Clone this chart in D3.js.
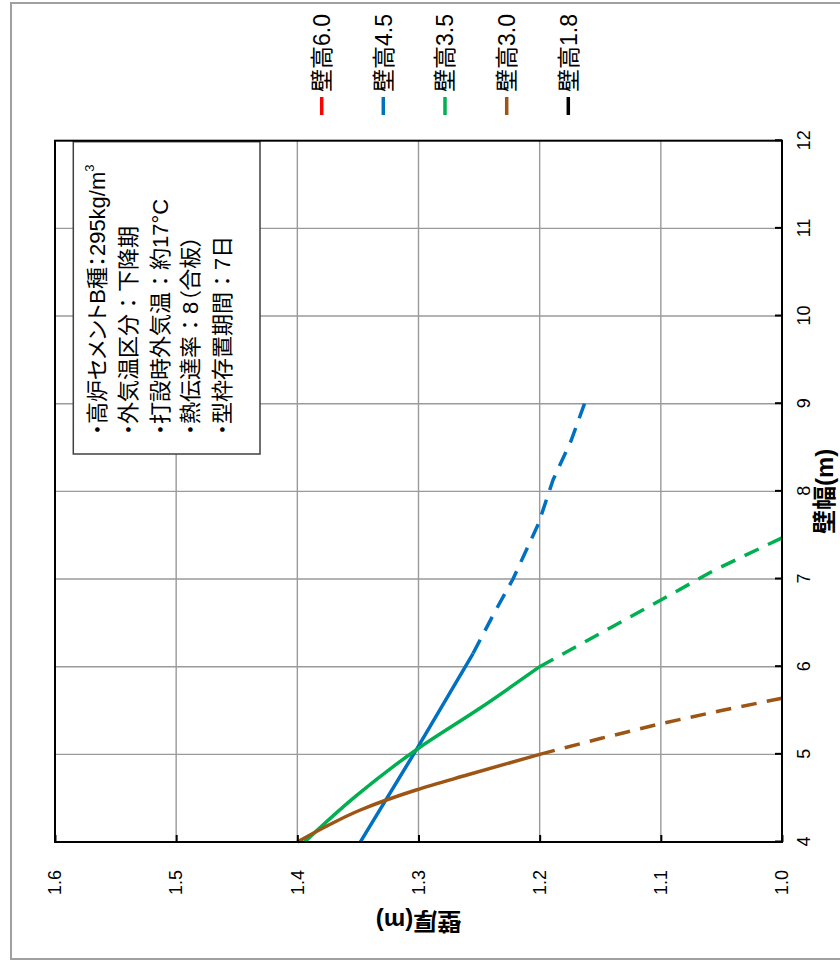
<!DOCTYPE html>
<html><head><meta charset="utf-8">
<script src="https://cdn.jsdelivr.net/npm/d3@7"></script>
<style>
html,body{margin:0;padding:0;background:#fff;}
svg{display:block;}
text{font-family:"Liberation Sans","Noto Sans CJK JP",sans-serif;fill:#000;}
.jp{font-feature-settings:"palt";}
.fw{font-feature-settings:normal;}
</style></head><body>
<svg id="chart" width="840" height="960"></svg>
<script>
// ---- data ----
const legendNames = ["壁高6.0", "壁高4.5", "壁高3.5", "壁高3.0", "壁高1.8"];
const legendColors = ["#FF0000", "#0070C0", "#00B050", "#9C5514", "#000000"];
const widthTicks = [4, 5, 6, 7, 8, 9, 10, 11, 12];
const thicknessTicks = [1.0, 1.1, 1.2, 1.3, 1.4, 1.5, 1.6];
const xTitle = "壁幅(m)";
const yTitle = "壁厚(m)";
const infoLines = ["・高炉セメントB種：295kg/m", "・外気温区分：下降期", "・打設時外気温：約17°C", "・熱伝達率：8（合板）", "・型枠存置期間：7日"];

// 壁高4.5 (blue)
const h45SolidW = [4.0, 5.07, 6.15];
const h45SolidT = [1.348, 1.301, 1.255];
const h45DashW = [6.15, 6.6, 7.0, 7.63, 8.13, 8.58, 9.0];
const h45DashT = [1.255, 1.238, 1.222, 1.201, 1.189, 1.174, 1.163];
// 壁高3.5 (green)
const h35SolidW = [4.0, 4.52, 5.07, 5.52, 6.0];
const h35SolidT = [1.394, 1.352, 1.300, 1.250, 1.200];
const h35DashW = [6.0, 6.38, 6.76, 7.1, 7.47];
const h35DashT = [1.200, 1.150, 1.100, 1.056, 1.000];
// 壁高3.0 (brown)
const h30SolidW = [4.0, 4.18, 4.365, 4.593, 4.764, 5.0];
const h30SolidT = [1.400, 1.376, 1.348, 1.302, 1.260, 1.200];
const h30DashW = [5.0, 5.18, 5.35, 5.50, 5.64];
const h30DashT = [1.200, 1.150, 1.100, 1.050, 1.000];

// ---- drawing (chart drawn in its own frame, then rotated -90deg) ----
const W = 960, H = 840;
const svg = d3.select("#chart");
const g = svg.append("g").attr("transform", `translate(0,${W}) rotate(-90)`);

// outer frame
g.append("rect").attr("x", 1).attr("y", 11).attr("width", 956).attr("height", 860)
  .attr("fill", "#fff").attr("stroke", "#a0a0a0").attr("stroke-width", 2);

const x = d3.scaleLinear().domain([4, 12]).range([118, 819.3]);
const y = d3.scaleLinear().domain([1.0, 1.6]).range([782, 55]);

// gridlines
const grid = g.append("g");
grid.selectAll("line.vx").data(widthTicks.slice(1, -1)).join("line")
  .attr("x1", d => x(d)).attr("x2", d => x(d)).attr("y1", y(1.0)).attr("y2", y(1.6))
  .attr("stroke", "#9a9a9a").attr("stroke-width", 1.4);
grid.selectAll("line.hy").data(thicknessTicks.slice(1, -1)).join("line")
  .attr("x1", x(4)).attr("x2", x(12)).attr("y1", d => y(d)).attr("y2", d => y(d))
  .attr("stroke", "#9a9a9a").attr("stroke-width", 1.4);

// info box
const box = g.append("g");
box.append("rect").attr("x", 506).attr("y", 73.3).attr("width", 312.3).attr("height", 186.7)
  .attr("fill", "#fff").attr("stroke", "#404040").attr("stroke-width", 1.5);
const infoY = [96.7, 128.3, 160, 190, 221.7];
infoLines.forEach((t, i) => {
  const parts = t.split("：");
  const tx = box.append("text").attr("class", "jp").attr("x", 525).attr("y", infoY[i])
    .attr("dy", "0.36em").attr("font-size", 22);
  tx.append("tspan").text(parts[0]);
  tx.append("tspan").attr("class", i === 0 ? "jp" : "fw").text("：");
  tx.append("tspan").text(parts[1]);
  if (i === 0) tx.append("tspan").attr("font-size", 13).attr("dy", "-0.85em").text("3");
});

// series lines
const lineSmooth = d3.line().x(d => x(d[0])).y(d => y(d[1])).curve(d3.curveMonotoneX);
const lineStraight = d3.line().x(d => x(d[0])).y(d => y(d[1]));
const series = [
  {c: legendColors[1], w: h45SolidW, t: h45SolidT, dash: false},
  {c: legendColors[1], w: h45DashW, t: h45DashT, dash: true},
  {c: legendColors[2], w: h35SolidW, t: h35SolidT, dash: false},
  {c: legendColors[2], w: h35DashW, t: h35DashT, dash: true},
  {c: legendColors[3], w: h30SolidW, t: h30SolidT, dash: false},
  {c: legendColors[3], w: h30DashW, t: h30DashT, dash: true}
];
const lines = g.append("g");
series.forEach(s => {
  const p = lines.append("path").datum(s.w.map((w, i) => [w, s.t[i]]))
    .attr("d", s.dash ? lineStraight : lineSmooth).attr("fill", "none").attr("stroke", s.c)
    .attr("stroke-width", 3.5).attr("stroke-linejoin", "round");
  if (s.dash) {
    const L = p.node().getTotalLength();
    const n = Math.max(1, Math.round((L - 15) / 25));
    const k = L / (n * 25 + 15);
    p.attr("stroke-dasharray", `${15 * k},${10 * k}`);
  }
});

// plot border
g.append("rect").attr("x", x(4)).attr("y", y(1.6)).attr("width", x(12) - x(4)).attr("height", y(1.0) - y(1.6))
  .attr("fill", "none").attr("stroke", "#000").attr("stroke-width", 2);

// axes
const xAxis = g.append("g").attr("transform", `translate(0,${y(1.0)})`)
  .call(d3.axisBottom(x).tickValues(widthTicks).tickFormat(d3.format("d")).tickSizeInner(-7).tickSizeOuter(0).tickPadding(15));
const yAxis = g.append("g").attr("transform", `translate(${x(4)},0)`)
  .call(d3.axisLeft(y).tickValues(thicknessTicks).tickFormat(d3.format(".1f")).tickSizeInner(-7).tickSizeOuter(0).tickPadding(28));
[xAxis, yAxis].forEach(a => {
  a.select(".domain").remove();
  a.selectAll(".tick line").attr("stroke", "#000").attr("stroke-width", 2);
  a.selectAll(".tick text").attr("font-size", 18).attr("font-family", "'Liberation Sans', Arial, sans-serif");
});

// axis titles
g.append("text").attr("x", (x(4) + x(12)) / 2).attr("y", 825).attr("dy", "0.34em")
  .attr("text-anchor", "middle").attr("font-size", 24).attr("font-weight", "bold").text(xTitle);
g.append("text").attr("transform", `translate(38,${(y(1.0) + y(1.6)) / 2}) rotate(-90)`)
  .attr("dy", "0.36em").attr("text-anchor", "middle").attr("font-size", 24).attr("font-weight", "bold").text(yTitle);

// legend
const legY = [321.7, 383.3, 445, 506.7, 568.3];
const leg = g.append("g");
legendNames.forEach((n, i) => {
  leg.append("line").attr("x1", 845).attr("x2", 863).attr("y1", legY[i]).attr("y2", legY[i])
    .attr("stroke", legendColors[i]).attr("stroke-width", 3.5);
  leg.append("text").attr("x", 868).attr("y", legY[i]).attr("dy", "0.36em")
    .attr("font-size", 23).text(n);
});
</script>
</body></html>
